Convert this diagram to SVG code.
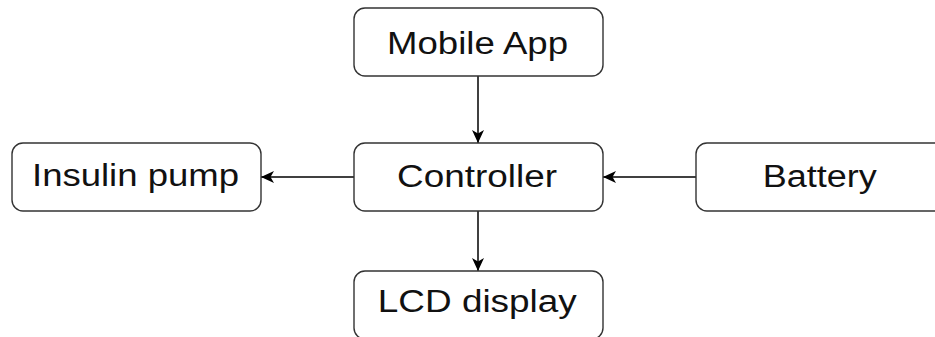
<svg xmlns="http://www.w3.org/2000/svg" width="935" height="337" viewBox="0 0 935 337">
<style>
.box{fill:#fff;stroke:#333;stroke-width:1.4}
.lbl{font-family:"Liberation Sans",Arial,sans-serif;font-size:31px;fill:#111;text-anchor:middle}
.edge{stroke:#000;stroke-width:1.5;fill:none}
</style>
<defs>
<marker id="ah" viewBox="0 0 13 12" refX="13" refY="6" markerWidth="13" markerHeight="12" markerUnits="userSpaceOnUse" orient="auto">
<path d="M0,0 L13,6 L0,12 L3.5,6 Z" fill="#000"/>
</marker>
</defs>
<rect width="935" height="337" fill="#fff"/>
<g id="connectors">
<line class="edge" x1="478" y1="76" x2="478" y2="143" marker-end="url(#ah)"/>
<line class="edge" x1="478" y1="211" x2="478" y2="271" marker-end="url(#ah)"/>
<line class="edge" x1="354" y1="177" x2="261" y2="177" marker-end="url(#ah)"/>
<line class="edge" x1="696" y1="177" x2="603" y2="177" marker-end="url(#ah)"/>
</g>
<g id="mobile-app">
<rect class="box" x="354" y="8" width="249" height="68" rx="11"/>
<text class="lbl" x="477.5" y="54" textLength="181" lengthAdjust="spacingAndGlyphs">Mobile App</text>
</g>
<g id="controller">
<rect class="box" x="354" y="143" width="249" height="68" rx="11"/>
<text class="lbl" x="477" y="187" textLength="160" lengthAdjust="spacingAndGlyphs">Controller</text>
</g>
<g id="insulin-pump">
<rect class="box" x="12" y="143" width="249" height="68" rx="11"/>
<text class="lbl" x="135.5" y="186" textLength="207" lengthAdjust="spacingAndGlyphs">Insulin pump</text>
</g>
<g id="battery">
<rect class="box" x="696" y="143" width="249" height="68" rx="11"/>
<text class="lbl" x="819.7" y="187" textLength="114" lengthAdjust="spacingAndGlyphs">Battery</text>
</g>
<g id="lcd-display">
<rect class="box" x="354" y="271" width="249" height="68" rx="11"/>
<text class="lbl" x="477.3" y="312" textLength="199" lengthAdjust="spacingAndGlyphs">LCD display</text>
</g>
</svg>
